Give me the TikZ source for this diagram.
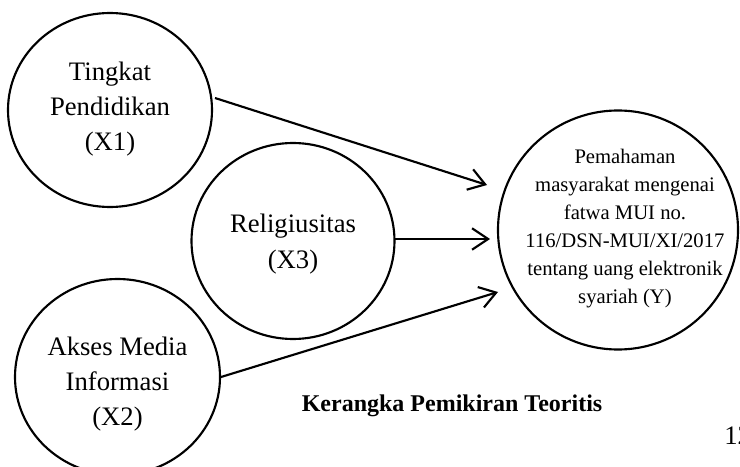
\documentclass[tikz,border=0pt]{standalone}
\usepackage{fontspec}
\setmainfont{Liberation Serif}
\usetikzlibrary{shapes.geometric,arrows.meta}
\begin{document}
\begin{tikzpicture}[x=0.75pt,y=-0.75pt,
  var/.style={ellipse,draw,line width=1.6pt,inner sep=0pt},
  vlabel/.style={align=center,inner sep=0pt,font=\fontsize{20}{26.5}\selectfont},
  ylabel/.style={align=center,inner sep=0pt,font=\fontsize{15.5}{21}\selectfont},
  conn/.style={line width=1.6pt,-{Straight Barb[length=12pt,width=16pt,line width=1.6pt]}}]
\clip (0,0) rectangle (740,467);
\useasboundingbox (0,0) rectangle (740,467);
\node[var,minimum width=153pt,minimum height=145.5pt] (x1) at (110,110) {};
\node[vlabel] (x1l) at (110,109) {Tingkat\\Pendidikan\\(X1)};
\node[var,minimum width=152.25pt,minimum height=147pt] (x3) at (293,241) {};
\node[vlabel] (x3l) at (293,244) {Religiusitas\\(X3)};
\node[var,minimum width=153.75pt,minimum height=147pt] (x2) at (117.5,377) {};
\node[vlabel] (x2l) at (117.5,384) {Akses Media\\Informasi\\(X2)};
\node[var,minimum width=180pt,minimum height=179.25pt] (y) at (618,230) {};
\node[ylabel] (yl) at (625,229) {Pemahaman\\masyarakat mengenai\\fatwa MUI no.\\116/DSN-MUI/XI/2017\\tentang uang elektronik\\syariah (Y)};
\coordinate (s1) at (215,98);
\coordinate (t1) at (487,185);
\coordinate (s2) at (395,239);
\coordinate (t2) at (490,239);
\coordinate (s3) at (221,377);
\coordinate (t3) at (498,292);
\draw[conn] (s1) -- (t1);
\draw[conn] (s2) -- (t2);
\draw[conn] (s3) -- (t3);
\node[font=\bfseries\fontsize{18}{22}\selectfont] (cap) at (452,406) {Kerangka Pemikiran Teoritis};
\node[anchor=west,inner sep=0pt,font=\fontsize{20}{24}\selectfont] (pg) at (724,436) {12};
\end{tikzpicture}
\end{document}
